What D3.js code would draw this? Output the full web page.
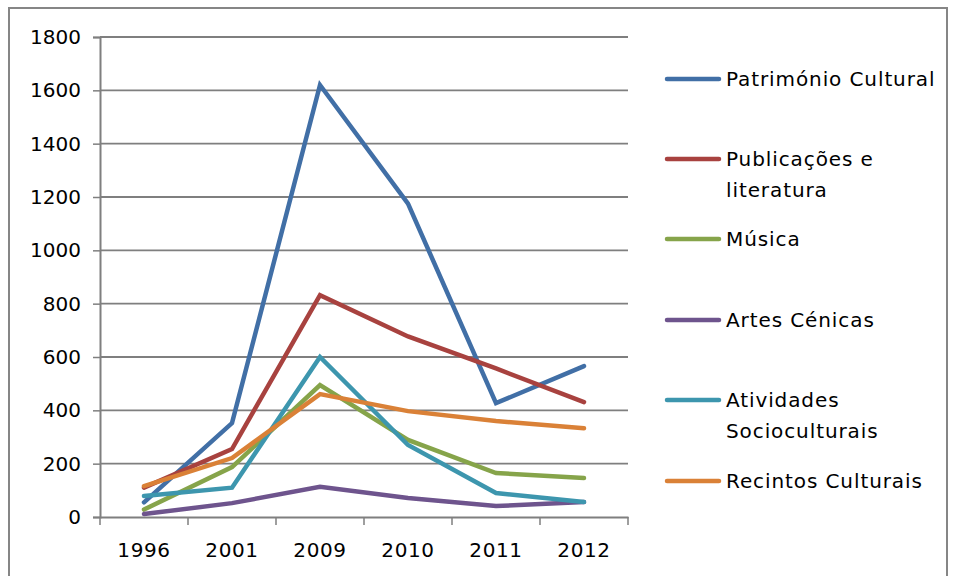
<!DOCTYPE html>
<html><head><meta charset="utf-8">
<script src="https://cdn.jsdelivr.net/npm/d3@7"></script>
<style>body{margin:0;background:#fff}svg{display:block}</style>
</head><body>
<svg id="c" width="954" height="576"></svg>
<script>
const years = ["1996","2001","2009","2010","2011","2012"];
const seriesNames = [["Património Cultural"],["Publicações e","literatura"],["Música"],["Artes Cénicas"],["Atividades","Socioculturais"],["Recintos Culturais"]];
const patrimonio = [55, 352, 1620, 1175, 427, 566];
const publicacoes = [110, 255, 832, 677, 557, 431];
const musica = [28, 187, 495, 289, 165, 146];
const artes = [11, 52, 113, 71, 41, 56];
const atividades = [79, 110, 600, 270, 90, 56];
const recintos = [116, 221, 461, 397, 360, 333];
const yTicks = [0,200,400,600,800,1000,1200,1400,1600,1800];
const colors = ["#416FA6","#A8423F","#86A44A","#6E548D","#3D96AE","#DA8137"];
const allSeries = [patrimonio, publicacoes, musica, artes, atividades, recintos];

const svg = d3.select("#c");
const font = "DejaVu Sans, sans-serif";
svg.append("rect").attr("x",9).attr("y",8).attr("width",938).attr("height",580)
  .attr("fill","#fff").attr("stroke","#868686").attr("stroke-width",2);

const x = d3.scaleBand().domain(years).range([100,628]);
const y = d3.scaleLinear().domain([0,1800]).range([517,37]);
const grid = "#7f7f7f";

// gridlines
svg.append("g").selectAll("line").data(yTicks.filter(d=>d>0)).join("line")
  .attr("x1",100).attr("x2",628).attr("y1",d=>y(d)).attr("y2",d=>y(d))
  .attr("stroke",grid).attr("stroke-width",1.8);

// y axis
const ya = svg.append("g").attr("transform","translate(100,0)")
  .call(d3.axisLeft(y).tickValues(yTicks).tickSize(7).tickPadding(12).tickFormat(d3.format("d")));
ya.select(".domain").attr("stroke",grid).attr("stroke-width",2);
ya.selectAll(".tick line").attr("stroke",grid).attr("stroke-width",1.5);
ya.selectAll("text").attr("font-family",font).attr("font-size",20).attr("fill","#000");

// x axis
const xa = svg.append("g").attr("transform","translate(0,517)")
  .call(d3.axisBottom(x).tickSize(0).tickPadding(26));
xa.select(".domain").attr("stroke",grid).attr("stroke-width",2);
xa.selectAll("text").attr("font-family",font).attr("font-size",20).attr("letter-spacing","0.6px").attr("fill","#000");
const bounds = d3.range(years.length+1).map(i=> i<years.length ? x(years[i]) : x.range()[1]);
svg.append("g").selectAll("line").data(bounds).join("line")
  .attr("x1",d=>d).attr("x2",d=>d).attr("y1",517).attr("y2",525)
  .attr("stroke",grid).attr("stroke-width",1.5);

// lines
const line = d3.line().x((d,i)=>x(years[i])+x.bandwidth()/2).y(d=>y(d));
allSeries.forEach((s,k)=>{
  svg.append("path").attr("d",line(s)).attr("fill","none")
    .attr("stroke",colors[k]).attr("stroke-width",4.5).attr("stroke-linejoin","miter").attr("stroke-linecap","round");
});

// legend
const legY = [79,159,239,320,400,481];
seriesNames.forEach((names,k)=>{
  const g = svg.append("g");
  g.append("line").attr("x1",667).attr("x2",719).attr("y1",legY[k]).attr("y2",legY[k])
    .attr("stroke",colors[k]).attr("stroke-width",4.5).attr("stroke-linecap","round");
  names.forEach((t,j)=>{
    g.append("text").attr("x",726).attr("y",legY[k]+7+j*31)
      .attr("font-family",font).attr("font-size",20).attr("letter-spacing","0.9px").attr("fill","#000").text(t);
  });
});
</script>
</body></html>
